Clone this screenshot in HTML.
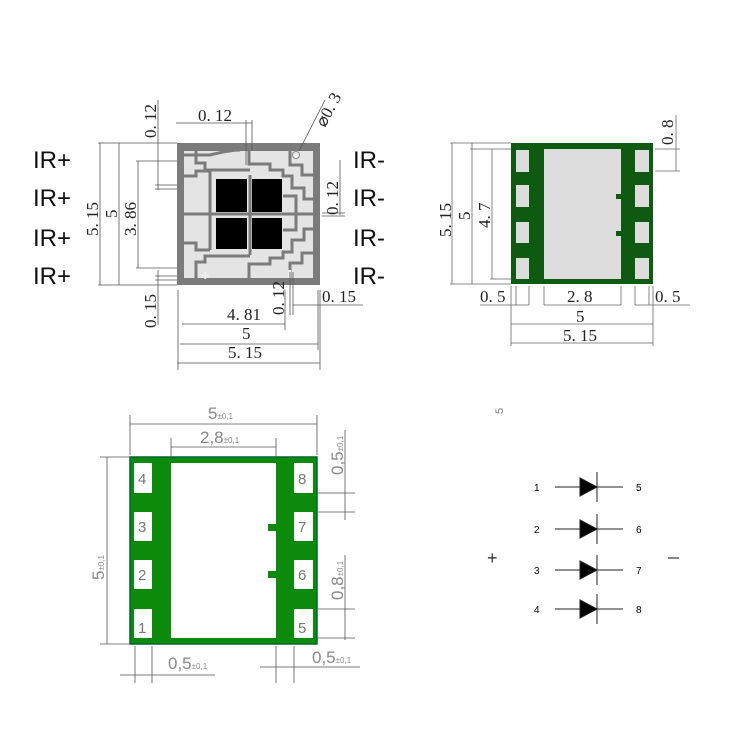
<!DOCTYPE html>
<html><head><style>body{margin:0;background:#fff}svg{display:block}</style></head><body>
<svg width="750" height="750" viewBox="0 0 750 750" xmlns="http://www.w3.org/2000/svg" font-family="Liberation Serif, serif">
<rect width="750" height="750" fill="#fff"/>
<g font-family="Liberation Sans, sans-serif" font-size="24" fill="#111">
<text x="33" y="168">IR+</text><text x="33" y="206">IR+</text><text x="33" y="246">IR+</text><text x="33" y="284">IR+</text>
<text x="353" y="168">IR-</text><text x="353" y="206">IR-</text><text x="353" y="246">IR-</text><text x="353" y="284">IR-</text>
</g>
<rect x="177" y="143" width="143" height="142" fill="#7b7b7b"/>
<rect x="183" y="150" width="131" height="129" fill="#e4e4e4"/>
<g fill="none" stroke="#7b7b7b" stroke-width="3">
<path d="M183 155 H210 Q230 150 240 150"/>
<path d="M196 150 V163 H205 V170 H250"/>
<path d="M183 176 H196 V171 H210 V178"/>
<path d="M210 178 V250"/>
<path d="M183 214 H314"/>
<path d="M183 243 H196 V250 H210"/>
<path d="M196 279 V262 H205 V256 H250"/>
<path d="M249 150 V164 H270 V170 H283 V176 H292 V188 H304 V199 H314"/>
<path d="M249 279 V264 H270 V258 H283 V252 H292 V240 H304 V229 H314"/>
<path d="M290 150 V165 H302 V175 H314"/>
<path d="M290 279 V263 H302 V253 H314"/>
<path d="M283 196 H296 V230 H283"/>
<path d="M250 175 V255"/>
</g>
<rect x="183" y="150" width="131" height="129" fill="none" stroke="#7b7b7b" stroke-width="2"/>
<circle cx="296" cy="155" r="3.5" fill="#eee" stroke="#888"/>
<text x="201" y="279" font-size="10" fill="#eee" font-family="Liberation Sans">✚</text>
<rect x="288" y="270" width="3" height="8" fill="#eee"/>
<rect x="216" y="179" width="31" height="33" fill="#000"/>
<rect x="252" y="179" width="30" height="33" fill="#000"/>
<rect x="216" y="218" width="31" height="31" fill="#000"/>
<rect x="252" y="218" width="30" height="31" fill="#000"/>
<g stroke="#555" stroke-width="0.8" fill="none">
<path d="M98 143 H177 M98 285 H177 M100 143 V285 M119 143 V285"/>
<path d="M138 161 V268 M136 161 H177 M136 268 H177"/>
<path d="M158 100 V190 M155 185 H177 M155 189 H177 M158 270 V325 M155 276 H177 M155 280 H177"/>
<path d="M176 123 H252 M246 120 V165 M252 120 V150"/>
<path d="M178 290 V370 M320 290 V370 M182 324 H285 M180 344 H318 M177 363 H320 M285 290 V330 M318 290 V350"/>
<path d="M290 272 V315 M293 272 V315 M293 305 H363"/>
<path d="M340 160 V215 M322 213 H345 M322 216 H345"/>
<path d="M299 151 L325 100"/>
</g>
<g font-size="17" fill="#222">
<text x="198" y="121">0. 12</text>
<text x="227" y="320">4. 81</text>
<text x="242" y="339">5</text>
<text x="228" y="358">5. 15</text>
<text x="322" y="302">0. 15</text>
<text transform="translate(98,236) rotate(-90)">5. 15</text>
<text transform="translate(117,218) rotate(-90)">5</text>
<text transform="translate(136,236) rotate(-90)">3. 86</text>
<text transform="translate(156,138) rotate(-90)">0. 12</text>
<text transform="translate(156,328) rotate(-90)">0. 15</text>
<text transform="translate(284,315) rotate(-90)">0. 12</text>
<text transform="translate(338,215) rotate(-90)">0. 12</text>
<text transform="translate(325,128) rotate(-62)">⌀0. 3</text>
</g>
<rect x="511" y="143" width="142" height="141" fill="#0e5a10"/>
<rect x="544" y="149" width="77" height="130" fill="#dcdcdc"/>
<rect x="616" y="194" width="5" height="5" fill="#0e5a10"/>
<rect x="616" y="231" width="5" height="5" fill="#0e5a10"/>
<g fill="#dcdcdc">
<rect x="516" y="150" width="13" height="22"/><rect x="516" y="185" width="13" height="22"/><rect x="516" y="222" width="13" height="21"/><rect x="516" y="258" width="13" height="21"/>
<rect x="635" y="150" width="14" height="22"/><rect x="635" y="185" width="14" height="22"/><rect x="635" y="222" width="14" height="21"/><rect x="635" y="258" width="14" height="21"/>
</g>
<g stroke="#666" stroke-width="0.8" fill="none">
<path d="M450 143 H511 M470 149 H511 M452 143 V284 M472 143 V284 M492 149 V279 M490 279 H511 M450 284 H511"/>
<path d="M511 286 V346 M653 286 V346 M516 286 V305 M529 286 V305 M544 286 V305 M621 286 V305 M635 286 V305 M649 286 V305"/>
<path d="M480 305 H529 M544 305 H621 M635 305 H690 M511 324 H653 M511 343 H653"/>
<path d="M655 149 H680 M655 171 H680 M676 115 V171"/>
</g>
<g font-size="17" fill="#222">
<text x="480" y="302">0. 5</text><text x="567" y="302">2. 8</text><text x="655" y="302">0. 5</text>
<text x="576" y="322">5</text><text x="563" y="341">5. 15</text>
<text transform="translate(451,237) rotate(-90)">5. 15</text>
<text transform="translate(470,220) rotate(-90)">5</text>
<text transform="translate(490,228) rotate(-90)">4. 7</text>
<text transform="translate(673,145) rotate(-90)">0. 8</text>
</g>
<rect x="130" y="457" width="187" height="187" fill="#0b8a0b" stroke="#063" stroke-width="1.5"/>
<rect x="171" y="463" width="105" height="175" fill="#fff"/>
<rect x="268" y="524" width="8" height="7" fill="#0b8a0b"/>
<rect x="268" y="571" width="8" height="7" fill="#0b8a0b"/>
<g fill="#fff">
<rect x="134" y="463" width="18" height="30"/><rect x="134" y="512" width="18" height="29"/><rect x="134" y="560" width="18" height="29"/><rect x="134" y="609" width="18" height="29"/>
<rect x="294" y="463" width="19" height="30"/><rect x="294" y="512" width="19" height="29"/><rect x="294" y="560" width="19" height="29"/><rect x="294" y="609" width="19" height="29"/>
</g>
<g font-family="Liberation Sans, sans-serif" font-size="15" fill="#777">
<text x="138" y="484">4</text><text x="138" y="532">3</text><text x="138" y="580">2</text><text x="138" y="633">1</text>
<text x="298" y="484">8</text><text x="298" y="532">7</text><text x="298" y="580">6</text><text x="298" y="633">5</text>
</g>
<g stroke="#555" stroke-width="0.8" fill="none">
<path d="M130 415 V455 M317 415 V455 M130 424 H317 M171 438 V457 M276 438 V457 M171 447 H276"/>
<path d="M100 457 H130 M100 644 H130 M107 457 V644"/>
<path d="M345 430 V520 M317 493 H355 M317 512 H355 M345 555 V640 M317 609 H355 M317 638 H355"/>
<path d="M135 646 V683 M152 646 V683 M120 675 H215 M276 646 V683 M294 646 V683 M260 667 H360"/>
</g>
<g font-family="Liberation Sans, sans-serif" fill="#888">
<text x="208" y="419" font-size="17">5<tspan font-size="8">±0,1</tspan></text>
<text x="200" y="443" font-size="17">2,8<tspan font-size="8">±0,1</tspan></text>
<text x="168" y="669" font-size="17">0,5<tspan font-size="8">±0,1</tspan></text>
<text x="312" y="663" font-size="17">0,5<tspan font-size="8">±0,1</tspan></text>
<text transform="translate(343,475) rotate(-90)" font-size="17">0,5<tspan font-size="8">±0,1</tspan></text>
<text transform="translate(343,600) rotate(-90)" font-size="17">0,8<tspan font-size="8">±0,1</tspan></text>
<text transform="translate(104,580) rotate(-90)" font-size="17">5<tspan font-size="8">±0,1</tspan></text>
</g>
<g stroke="#222" stroke-width="1" fill="#000" font-family="Liberation Sans, sans-serif" font-size="10">
<g><line x1="555" y1="487" x2="623" y2="487"/><path d="M580 478 L597 487 L580 496Z"/><line x1="597" y1="472" x2="597" y2="502"/><text x="534" y="491" stroke="none">1</text><text x="636" y="491" stroke="none">5</text></g>
<g><line x1="555" y1="529" x2="623" y2="529"/><path d="M580 520 L597 529 L580 538Z"/><line x1="597" y1="514" x2="597" y2="544"/><text x="534" y="533" stroke="none">2</text><text x="636" y="533" stroke="none">6</text></g>
<g><line x1="555" y1="570" x2="623" y2="570"/><path d="M580 561 L597 570 L580 579Z"/><line x1="597" y1="555" x2="597" y2="585"/><text x="534" y="574" stroke="none">3</text><text x="636" y="574" stroke="none">7</text></g>
<g><line x1="555" y1="609" x2="623" y2="609"/><path d="M580 600 L597 609 L580 618Z"/><line x1="597" y1="594" x2="597" y2="624"/><text x="534" y="613" stroke="none">4</text><text x="636" y="613" stroke="none">8</text></g>
</g>
<text x="487" y="564" font-family="Liberation Sans" font-size="18" fill="#333">+</text>
<line x1="668" y1="558" x2="679" y2="558" stroke="#333" stroke-width="1.2"/>
<text transform="translate(503,414) rotate(-90)" font-family="Liberation Sans" font-size="11" fill="#777">5</text>
</svg>
</body></html>
